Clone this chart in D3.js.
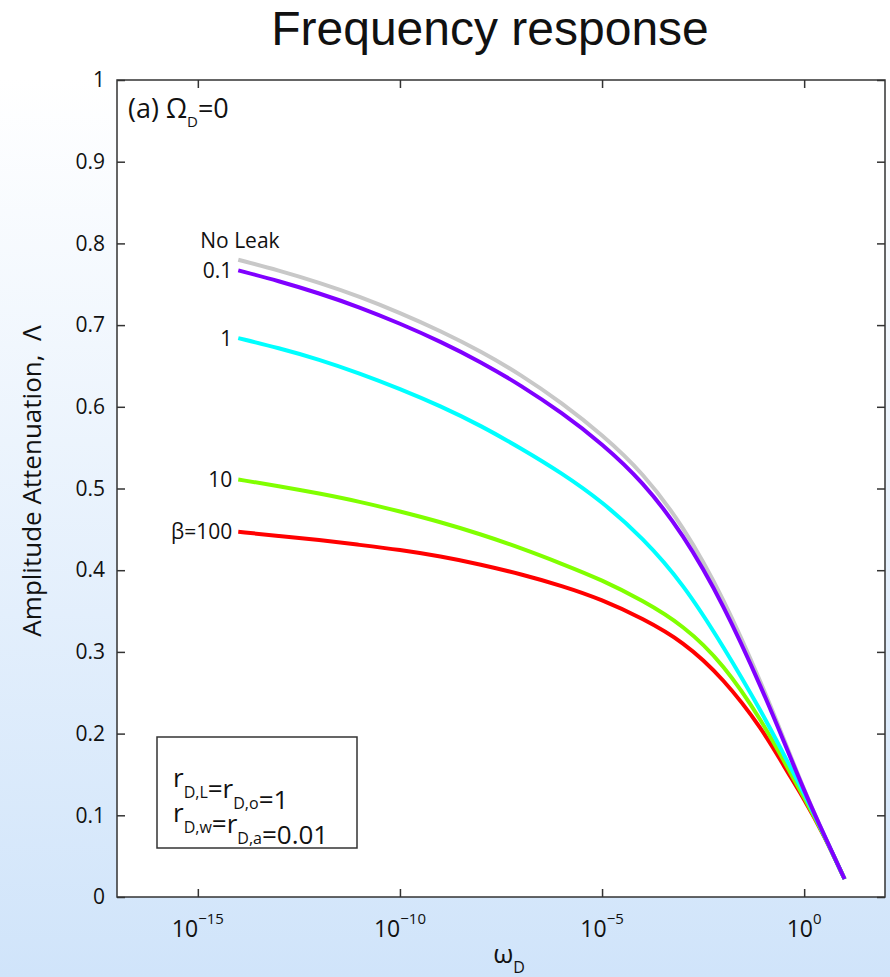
<!DOCTYPE html>
<html>
<head>
<meta charset="utf-8">
<script src="https://cdn.jsdelivr.net/npm/d3@7"></script>
<style>
    html, body { margin: 0; padding: 0; }
    svg { display: block; }
    text { font-family: "Open Sans", "Noto Sans", sans-serif; fill: #111; }
</style>
</head>
<body>
<script>
/**
 * Data.
 */
const omega = [1e-14, 1e-13, 1e-12, 1e-11, 1e-10, 1e-9, 1e-8, 1e-7, 1e-6, 1e-5,
    1e-4, 1e-3, 1e-2, 1e-1, 0.316, 1, 3.16, 10];

const noLeak = [0.780, 0.767, 0.752, 0.735, 0.715, 0.693, 0.668, 0.639, 0.605, 0.566,
    0.520, 0.455, 0.367, 0.255, 0.193, 0.131, 0.075, 0.022];
const beta01 = [0.767, 0.754, 0.739, 0.722, 0.702, 0.680, 0.655, 0.626, 0.593, 0.555,
    0.509, 0.445, 0.359, 0.250, 0.190, 0.130, 0.075, 0.022];
const beta1 = [0.684, 0.672, 0.658, 0.641, 0.622, 0.601, 0.577, 0.549, 0.519, 0.484,
    0.440, 0.384, 0.307, 0.222, 0.174, 0.127, 0.075, 0.022];
const beta10 = [0.511, 0.503, 0.494, 0.484, 0.472, 0.459, 0.444, 0.427, 0.408, 0.388,
    0.363, 0.333, 0.286, 0.212, 0.166, 0.122, 0.075, 0.022];
const beta100 = [0.447, 0.442, 0.437, 0.431, 0.425, 0.417, 0.407, 0.395, 0.381, 0.364,
    0.341, 0.313, 0.268, 0.203, 0.160, 0.120, 0.075, 0.022];

// Drawing order: purple last so it sits on top where the curves meet
const series = [
    { name: 'No Leak', values: noLeak, color: '#c8c8c8' },
    { name: 'β=100', values: beta100, color: '#ff0000' },
    { name: '10', values: beta10, color: '#80ff00' },
    { name: '1', values: beta1, color: '#00ffff' },
    { name: '0.1', values: beta01, color: '#8000ff' }
];

const xTicks = [1e-15, 1e-10, 1e-5, 1e0];
const xTickExp = ['−15', '−10', '−5', '0'];
const yTicks = [0, 0.1, 0.2, 0.3, 0.4, 0.5, 0.6, 0.7, 0.8, 0.9, 1];

/**
 * Visual configs.
 */
const visWidth = 890, visHeight = 977;
const margin = { top: 80, right: 5, bottom: 80, left: 117 };
const width = visWidth - margin.left - margin.right,
    height = visHeight - margin.top - margin.bottom;

const xScale = d3.scaleLog().domain([1e-17, 1e2]).range([0, width]);
const yScale = d3.scaleLinear().domain([0, 1]).range([height, 0]);

const svg = d3.select('body').append('svg')
    .attr('width', visWidth)
    .attr('height', visHeight);

// Background gradient
const grad = svg.append('defs').append('linearGradient')
    .attr('id', 'bg').attr('x1', 0).attr('y1', 0).attr('x2', 0).attr('y2', 1);
grad.append('stop').attr('offset', '0%').attr('stop-color', '#ffffff');
grad.append('stop').attr('offset', '8%').attr('stop-color', '#ffffff');
grad.append('stop').attr('offset', '100%').attr('stop-color', '#d0e4fa');
svg.append('rect').attr('width', visWidth).attr('height', visHeight).attr('fill', 'url(#bg)');

// Title
svg.append('text')
    .attr('x', 490).attr('y', 45)
    .attr('text-anchor', 'middle')
    .style('font-family', '"Liberation Sans", Arial, sans-serif')
    .style('font-size', '48px')
    .text('Frequency response');

const g = svg.append('g').attr('transform', 'translate(' + margin.left + ',' + margin.top + ')');

g.append('rect')
    .attr('width', width).attr('height', height)
    .attr('fill', '#fff');

/**
 * Curves.
 */
const line = d3.line()
    .x((d, i) => xScale(omega[i]))
    .y(d => yScale(d))
    .curve(d3.curveBasis);

g.selectAll('.curve').data(series).enter().append('path')
    .attr('class', 'curve')
    .attr('d', d => line(d.values))
    .attr('fill', 'none')
    .attr('stroke', d => d.color)
    .attr('stroke-width', 4);

// Curve labels at the left end
const x0 = xScale(omega[0]);
series.filter(s => s.name !== 'No Leak').forEach(s => {
    g.append('text')
        .attr('x', x0 - 6)
        .attr('y', yScale(s.values[0]))
        .attr('dy', '0.36em')
        .attr('text-anchor', 'end')
        .style('font-size', '21px')
        .text(s.name);
});
g.append('text')
    .attr('x', x0 - 38).attr('y', yScale(noLeak[0]) - 12)
    .style('font-size', '21px')
    .text('No Leak');

/**
 * Axes: ticks inside on all four sides.
 */
const tickLen = 8;
const yAxis = d3.axisLeft(yScale).tickValues(yTicks).tickSizeInner(-tickLen).tickSizeOuter(0)
    .tickPadding(12).tickFormat(d3.format('~g'));
const yAxisR = d3.axisRight(yScale).tickValues(yTicks).tickSizeInner(-tickLen).tickSizeOuter(0)
    .tickFormat('');
const xAxis = d3.axisBottom(xScale).tickValues(xTicks).tickSizeInner(-tickLen).tickSizeOuter(0)
    .tickFormat('');
const xAxisT = d3.axisTop(xScale).tickValues(xTicks).tickSizeInner(-tickLen).tickSizeOuter(0)
    .tickFormat('');

g.append('g').attr('class', 'axis').call(yAxis);
g.append('g').attr('class', 'axis').attr('transform', 'translate(' + width + ',0)').call(yAxisR);
g.append('g').attr('class', 'axis').attr('transform', 'translate(0,' + height + ')').call(xAxis);
g.append('g').attr('class', 'axis').call(xAxisT);

g.selectAll('.axis .domain').remove();
g.selectAll('.axis line').attr('stroke', '#333').attr('stroke-width', 1.5);
g.selectAll('.axis text')
    .style('font-family', '"Open Sans", "Noto Sans", sans-serif')
    .style('font-size', '21px')
    .attr('fill', '#111');

g.append('rect')
    .attr('width', width).attr('height', height)
    .attr('fill', 'none')
    .attr('stroke', '#333')
    .attr('stroke-width', 1.5);

// x tick labels: 10 with superscript exponent
xTicks.forEach((t, i) => {
    const lbl = g.append('text')
        .attr('x', xScale(t))
        .attr('y', height + 40)
        .attr('text-anchor', 'middle')
        .style('font-size', '23px');
    lbl.append('tspan').text('10');
    lbl.append('tspan').attr('dy', -13).style('font-size', '15px').text(xTickExp[i]);
});

// Axis titles
const xt = g.append('text')
    .attr('x', width / 2 + 8).attr('y', height + 66)
    .attr('text-anchor', 'middle')
    .style('font-size', '26px');
xt.append('tspan').text('ω');
xt.append('tspan').attr('dy', 10).style('font-size', '16px').text('D');

g.append('text')
    .attr('transform', 'translate(' + (41 - margin.left) + ',' + (481 - margin.top) + ') rotate(-90)')
    .attr('text-anchor', 'middle')
    .style('font-size', '26px')
    .text('Amplitude Attenuation,\u00a0 Λ');

// Panel tag
const tag = g.append('text').attr('x', 11).attr('y', 38).style('font-size', '27px');
tag.append('tspan').text('(a) Ω');
tag.append('tspan').attr('dy', 9).style('font-size', '15px').text('D');
tag.append('tspan').attr('dy', -9).text('=0');

/**
 * Parameter box.
 */
const box = g.append('g').attr('transform', 'translate(' + (157 - margin.left) + ',' + (737 - margin.top) + ')');
box.append('rect')
    .attr('width', 200).attr('height', 111)
    .attr('fill', '#fff')
    .attr('stroke', '#333')
    .attr('stroke-width', 1.5);

function paramLine(y, parts) {
    const t = box.append('text').attr('x', 16).attr('y', y).style('font-size', '26px');
    parts.forEach(p => {
        if (p.sub) {
            t.append('tspan').attr('dy', 11).style('font-size', '16px').text(p.sub);
            t.append('tspan').attr('dy', -11).text('');
        } else {
            t.append('tspan').text(p.text);
        }
    });
}
paramLine(50, [{ text: 'r' }, { sub: 'D,L' }, { text: '=r' }, { sub: 'D,o' }, { text: '=1' }]);
paramLine(85, [{ text: 'r' }, { sub: 'D,w' }, { text: '=r' }, { sub: 'D,a' }, { text: '=0.01' }]);
</script>
</body>
</html>
